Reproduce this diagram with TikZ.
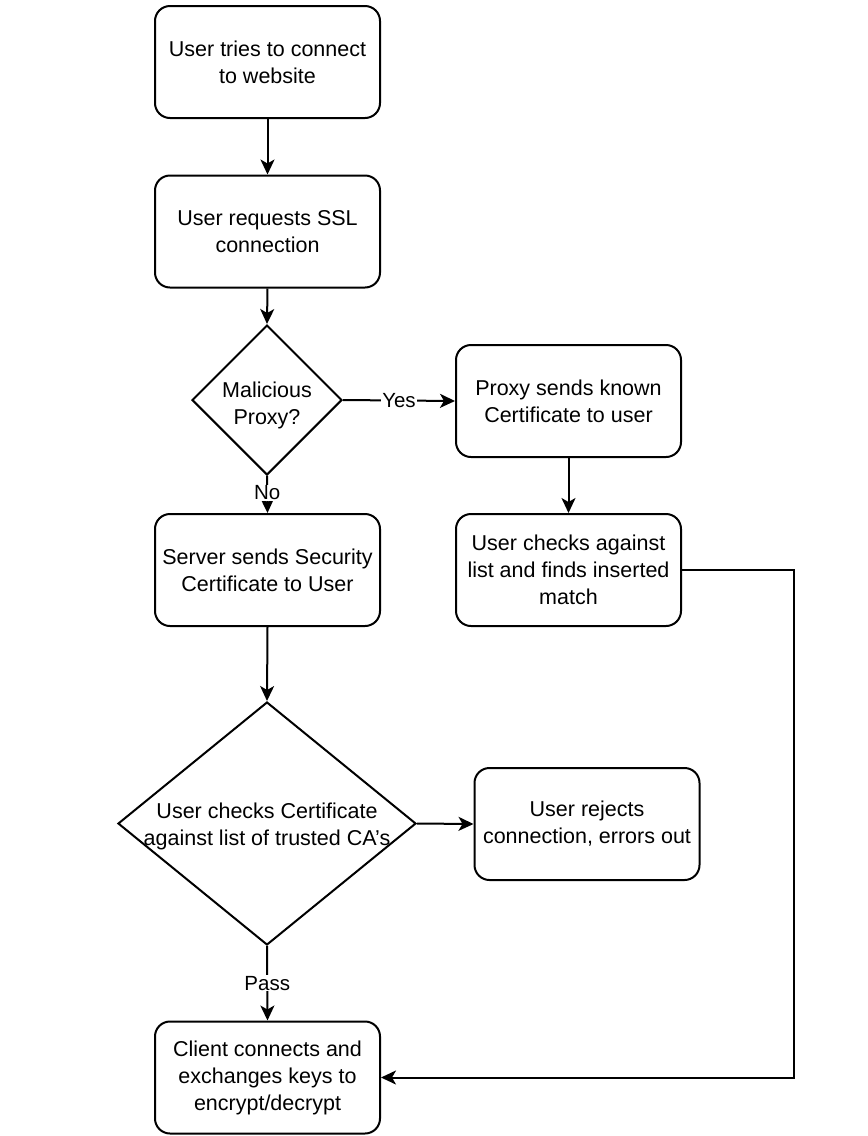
\documentclass[tikz,border=0pt]{standalone}
\usepackage{fontspec}
\setmainfont{Liberation Sans}
\usetikzlibrary{shapes.geometric,arrows.meta}
\begin{document}
\begin{tikzpicture}[x=1pt,y=-1pt,
 every node/.style={font=\fontsize{21.5}{27}\selectfont},
 box/.style={draw, rounded corners=15pt, minimum width=225pt, minimum height=112pt, align=center, line width=2pt, inner sep=0pt},
 decision/.style={draw, diamond, inner sep=0pt, line width=2pt},
 conn/.style={line width=2pt, -{Stealth[length=15pt,width=14pt,inset=4pt]}},
 elabel/.style={fill=white, inner sep=1pt, font=\fontsize{20.5}{24}\selectfont}]
\useasboundingbox (0,0) rectangle (868,1136);

\node[box] (b1) at (267.5,62) {User tries to connect\\to website};
\node[box] (b2) at (267.5,231.5) {User requests SSL\\connection};
\node[decision, minimum width=150pt, minimum height=150pt,
      label={[align=center, yshift=-5pt]center:{Malicious\\Proxy?}}] (d1) at (267,400) {};
\node[box] (proxy) at (568.5,401) {Proxy sends known\\Certificate to user};
\node[box] (server) at (267.5,570) {Server sends Security\\Certificate to User};
\node[box] (match) at (568.5,570) {User checks against\\list and finds inserted\\match};
\node[decision, minimum width=298pt, minimum height=243pt,
      label={[align=center, yshift=-3pt]center:{User checks Certificate\\against list of trusted CA's}}] (d2) at (267,823.5) {};
\node[box] (reject) at (587,824) {User rejects\\connection, errors out};
\node[box] (final) at (267.5,1077.5) {Client connects and\\exchanges keys to\\encrypt/decrypt};
\coordinate (rt) at (794,800);

\draw[conn] (b1.south) -- (b2.north);
\draw[conn] (b2.south) -- (d1.north);
\draw[conn] (d1.east) -- node[elabel]{Yes} (proxy.west);
\draw[conn] (d1.south) -- node[elabel, pos=0.45]{No} (server.north);
\draw[conn] (proxy.south) -- (match.north);
\draw[conn] (server.south) -- (d2.north);
\draw[conn] (d2.east) -- (reject.west);
\draw[conn] (d2.south) -- node[elabel]{Pass} (final.north);
\draw[conn] (match.east) -| (rt) |- (final.east);
\end{tikzpicture}
\end{document}
